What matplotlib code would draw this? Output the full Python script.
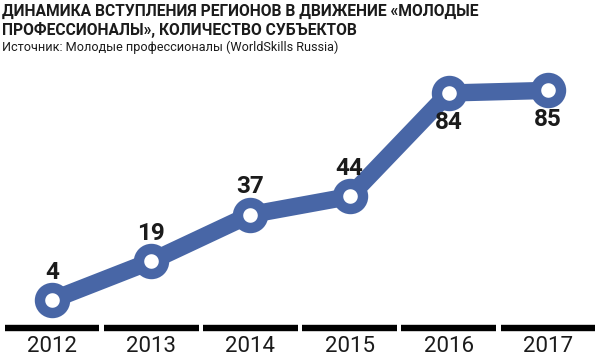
import matplotlib
matplotlib.use("Agg")
import matplotlib.pyplot as plt

years = [2012, 2013, 2014, 2015, 2016, 2017]
values = [4, 19, 37, 44, 84, 85]
label_below = [False, False, False, False, True, True]

title_lines = ["ДИНАМИКА ВСТУПЛЕНИЯ РЕГИОНОВ В ДВИЖЕНИЕ «МОЛОДЫЕ",
               "ПРОФЕССИОНАЛЫ», КОЛИЧЕСТВО СУБЪЕКТОВ"]
subtitle = "Источник: Молодые профессионалы (WorldSkills Russia)"

FONT = ['Roboto', 'DejaVu Sans']
blue = '#4866A6'
ink = '#1b1b1b'

fig = plt.figure(figsize=(6, 3.58), dpi=100)
ax = fig.add_axes([0, 0, 1, 1])
ax.set_xlim(2011.476, 2017.524)
ax.set_ylim(-18.42, 119.94)
ax.axis('off')
renderer = fig.canvas.get_renderer()


def fit(t, width_px):
    w = t.get_window_extent(renderer).width
    t.set_fontsize(t.get_fontsize() * width_px / w)


ax.plot(years, values, color=blue, lw=12.5, solid_capstyle='round', zorder=2)
ax.plot(years, values, 'o', ms=18, mfc='white', mec=blue, mew=7.5, zorder=3)

for x, v, below in zip(years, values, label_below):
    ax.annotate(str(v), (x, v), xytext=(0, -21 if below else 20), textcoords='offset points',
                ha='center', va='center', fontsize=17.5, fontweight='bold',
                family=FONT, color=ink, zorder=4)

for x in years:
    ax.hlines(-6.8, x - 0.478, x + 0.478, color='black', lw=4.6, zorder=1)
    t = ax.text(x, -13.8, str(x), ha='center', va='center', fontsize=18,
                family=FONT, color=ink)
    fit(t, 50)

H = 358.0
t1 = fig.text(0.004, 1 - 11.5 / H, title_lines[0], ha='left', va='center', fontsize=12,
              fontweight='bold', family=FONT, color=ink)
fit(t1, 478)
t2 = fig.text(0.004, 1 - 29.5 / H, title_lines[1], ha='left', va='center',
              fontsize=t1.get_fontsize(), fontweight='bold', family=FONT, color=ink)
t3 = fig.text(0.004, 1 - 47.5 / H, subtitle, ha='left', va='center', fontsize=11,
              family=FONT, color=ink)
fit(t3, 332)

fig.savefig('out.png', dpi=100)
